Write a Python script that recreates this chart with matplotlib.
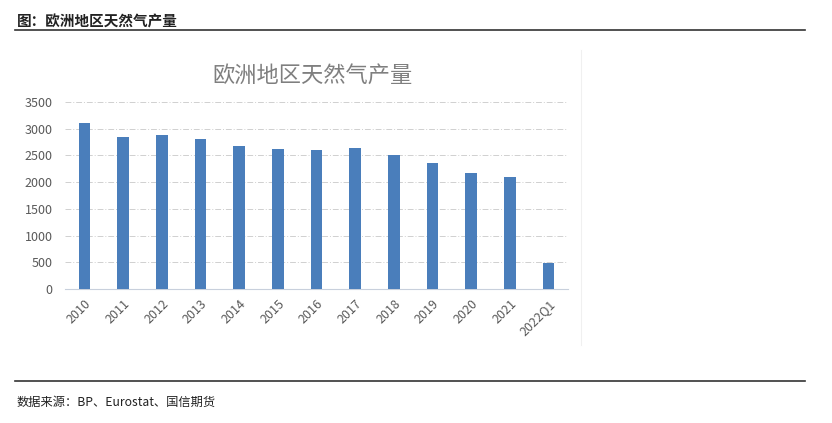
import matplotlib.pyplot as plt

plt.rcParams['font.family'] = ['Noto Sans CJK SC', 'DejaVu Sans']

# data
years = ["2010", "2011", "2012", "2013", "2014", "2015", "2016",
         "2017", "2018", "2019", "2020", "2021", "2022Q1"]
production = [3100, 2845, 2887, 2806, 2668, 2612, 2593,
              2630, 2512, 2356, 2180, 2100, 493]
y_ticks = [0, 500, 1000, 1500, 2000, 2500, 3000, 3500]

fig = plt.figure(figsize=(8.32, 4.23), dpi=100)

# header / footer of the report page
fig.text(17 / 832, 1 - 22 / 423, "图：欧洲地区天然气产量", fontsize=10.5,
         fontweight="bold", color="#222222", va="center", ha="left")
fig.add_artist(plt.Line2D([15 / 832, 805 / 832], [1 - 30 / 423, 1 - 30 / 423],
                          color="#333333", lw=1.2))
fig.add_artist(plt.Line2D([15 / 832, 805 / 832], [1 - 381 / 423, 1 - 381 / 423],
                          color="#333333", lw=1.2))
fig.text(17 / 832, 1 - 402 / 423, "数据来源：BP、Eurostat、国信期货", fontsize=8.8,
         color="#222222", va="center", ha="left")

# faint right edge of the pasted chart
fig.add_artist(plt.Line2D([581 / 832, 581 / 832], [1 - 50 / 423, 1 - 345 / 423],
                          color="#f0f0f0", lw=0.8))

ax = fig.add_axes([65 / 832, 1 - 289 / 423, 503 / 832, 187 / 423])
x = range(len(years))
ax.bar(x, production, width=0.3, color="#4a7ebb", zorder=3)

ax.set_xlim(-0.5, len(years) - 0.5)
ax.set_ylim(0, 3500)
ax.set_yticks(y_ticks)
ax.set_yticklabels([str(v) for v in y_ticks])
ax.set_xticks(list(x))
ax.set_xticklabels(years, rotation=45, ha="right", rotation_mode="anchor")
ax.tick_params(axis="both", length=0, labelsize=9, colors="#595959")
ax.tick_params(axis="x", pad=6)
ax.tick_params(axis="y", pad=9)

ax.grid(axis="y", color="#d0d0d0", linestyle=(0, (6, 2, 1, 2)), lw=0.7, zorder=0)
for side in ["top", "right", "left"]:
    ax.spines[side].set_visible(False)
ax.spines["bottom"].set_color("#c8d0dc")

fig.text(313 / 832, 1 - 75 / 423, "欧洲地区天然气产量", fontsize=16,
         color="#7f7f7f", ha="center", va="center")

plt.savefig("out.png", dpi=100)
